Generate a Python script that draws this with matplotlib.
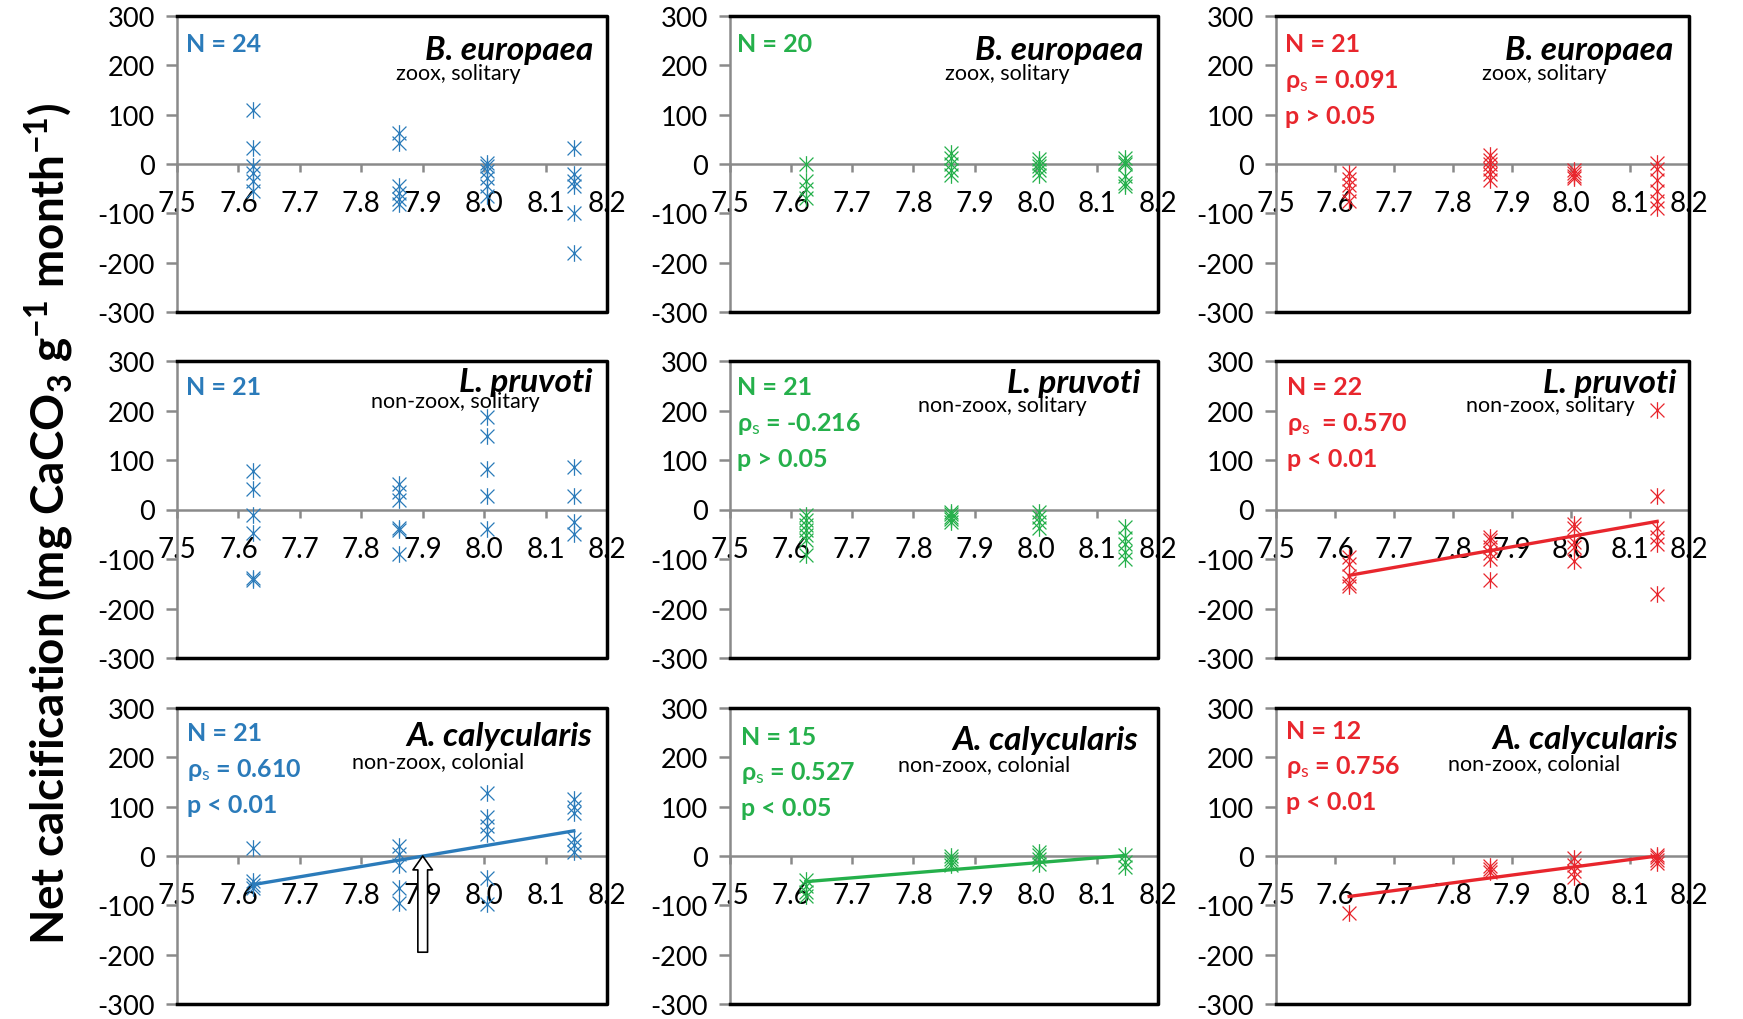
import numpy as np
import matplotlib
matplotlib.use("Agg")
import matplotlib.pyplot as plt
from matplotlib.path import Path

plt.rcParams['font.family'] = ['Lato', 'DejaVu Sans']
plt.rcParams['mathtext.fontset'] = 'custom'
plt.rcParams['mathtext.rm'] = 'Lato'
plt.rcParams['mathtext.bf'] = 'Lato:bold'
plt.rcParams['mathtext.it'] = 'Lato:italic'
plt.rcParams['axes.unicode_minus'] = False

# pH levels
ph = [7.624, 7.862, 8.005, 8.146]

# net calcification per pH level (one list per pH)
be_blue = [[110, 32, -5, -18, -35, -55], [62, 42, -45, -58, -70, -82],
           [3, -5, -15, -28, -45, -65], [33, -20, -35, -45, -100, -180]]
be_green = [[0, -35, -50, -68], [22, 12, 0, -12, -22],
            [10, 3, -5, -12, -22], [12, 5, 0, -25, -38, -45]]
be_red = [[-18, -30, -42, -55, -75], [18, 8, 0, -10, -20, -32],
          [-12, -18, -24, -28], [2, -10, -32, -55, -75, -90]]
lp_blue = [[78, 42, -12, -48, -138, -142], [52, 35, 20, -37, -42, -90],
           [187, 148, 82, 28, -40], [85, 28, -25, -50]]
lp_green = [[-12, -22, -32, -42, -52, -62, -92], [-5, -10, -15, -20, -25],
            [-5, -15, -25, -38], [-35, -58, -70, -85, -100]]
lp_red = [[-95, -110, -135, -148, -155], [-55, -62, -75, -88, -100, -142],
          [-30, -38, -65, -75, -105], [202, 28, -38, -55, -70, -170]]
ac_blue = [[17, -50, -58, -65], [20, 5, -18, -65, -95],
           [128, 80, 60, 45, -45, -98], [115, 100, 88, 35, 22, 8]]
ac_green = [[-48, -60, -72, -82], [0, -6, -12, -18],
            [8, 2, -6, -16], [2, -12, -22]]
ac_red = [[-116], [-20, -27, -33], [-5, -18, -30, -42], [3, -3, -9, -15]]

# trend line values at the lowest and highest pH (None = no line)
fit_ends = [None, None, None,
            None, None, [-133, -24],
            [-58, 51], [-52, 1], [-82, 0]]

species = ["B. europaea", "L. pruvoti", "A. calycularis"]
subtitles = ["zoox, solitary", "non-zoox, solitary", "non-zoox, colonial"]
stats = [["N = 24"], ["N = 20"], ["N = 21", r"ρ$_{\rm s}$ = 0.091", "p > 0.05"],
         ["N = 21"], ["N = 21", r"ρ$_{\rm s}$ = -0.216", "p > 0.05"],
         ["N = 22", r"ρ$_{\rm s}$  = 0.570", "p < 0.01"],
         ["N = 21", r"ρ$_{\rm s}$ = 0.610", "p < 0.01"],
         ["N = 15", r"ρ$_{\rm s}$ = 0.527", "p < 0.05"],
         ["N = 12", r"ρ$_{\rm s}$ = 0.756", "p < 0.01"]]
data = [be_blue, be_green, be_red, lp_blue, lp_green, lp_red, ac_blue, ac_green, ac_red]
colors = ["#2b7bba", "#25b04b", "#e8262d"]

# layout (pixels)
W, H = 1743, 1020
cols_px = [(177, 430), (730, 428), (1276, 413)]
rows_px = [(17, 296), (362, 297), (709, 296)]
sp_pos = [(0.967, 0.855), (0.965, 0.855), (0.961, 0.855),
          (0.965, 0.90), (0.958, 0.896), (0.97, 0.896),
          (0.965, 0.875), (0.953, 0.86), (0.973, 0.865)]
sub_pos = [(0.509, 0.787), (0.502, 0.787), (0.50, 0.787),
           (0.451, 0.846), (0.44, 0.832), (0.46, 0.832),
           (0.407, 0.80), (0.393, 0.79), (0.416, 0.795)]
st_pos = [(0.02, 0.882), (0.016, 0.882), (0.022, 0.882),
          (0.02, 0.889), (0.016, 0.889), (0.027, 0.889),
          (0.023, 0.892), (0.026, 0.88), (0.024, 0.9)]

# Excel-like star marker: X with a vertical bar
star = Path([(-1, -1), (1, 1), (-1, 1), (1, -1), (0, -1.2), (0, 1.2)],
            [Path.MOVETO, Path.LINETO, Path.MOVETO, Path.LINETO, Path.MOVETO, Path.LINETO])

grey = "#8a8a8a"
fig = plt.figure(figsize=(W / 100, H / 100), dpi=100)

for i in range(9):
    r, c = divmod(i, 3)
    l, w = cols_px[c]
    t, h = rows_px[r]
    ax = fig.add_axes([l / W, 1 - (t + h) / H, w / W, h / H])
    col = colors[c]

    xs = [ph[k] for k, vals in enumerate(data[i]) for v in vals]
    ys = [v for vals in data[i] for v in vals]
    ax.plot(xs, ys, linestyle="none", marker=star, markersize=12,
            markerfacecolor="none", markeredgecolor=col, markeredgewidth=0.9, zorder=3)

    if fit_ends[i] is not None:
        ax.plot([ph[0], ph[-1]], fit_ends[i], color=col, lw=2.4, zorder=4)

    ax.set_xlim(7.5, 8.2)
    ax.set_ylim(-300, 300)
    ax.set_xticks(np.arange(7.5, 8.21, 0.1))
    ax.set_xticklabels(["7.5", "7.6", "7.7", "7.8", "7.9", "8.0", "8.1", "8.2"])
    ax.set_yticks(range(-300, 301, 100))

    ax.spines["bottom"].set_position(("data", 0))
    ax.spines["bottom"].set_color(grey)
    ax.spines["bottom"].set_linewidth(1.8)
    ax.spines["left"].set_color(grey)
    ax.spines["left"].set_linewidth(1.8)
    ax.spines["top"].set_visible(False)
    ax.spines["right"].set_visible(False)
    ax.plot([0, 1, 1, 0], [1, 1, 0, 0], transform=ax.transAxes, color="black",
            lw=2.5, clip_on=False, zorder=5)

    ax.tick_params(axis="x", direction="out", length=6, width=1.8, color=grey,
                   labelsize=20, pad=13)
    ax.tick_params(axis="y", direction="out", length=8, width=1.8, color=grey,
                   labelsize=19.5, pad=8)

    ax.text(*sp_pos[i], species[r], transform=ax.transAxes, ha="right", va="baseline",
            fontsize=24, fontweight="bold", fontstyle="italic", color="black")
    ax.text(*sub_pos[i], subtitles[r], transform=ax.transAxes, ha="left", va="baseline",
            fontsize=15.5, color="black")
    sx, sy = st_pos[i]
    for j, s in enumerate(stats[i]):
        ax.text(sx, sy - j * 0.121, s, transform=ax.transAxes, ha="left", va="baseline",
                fontsize=18, fontweight="bold", color=col)

    if i == 6:
        ax.annotate("", xy=(7.9, 0), xytext=(7.9, -195),
                    arrowprops=dict(arrowstyle="simple,head_length=0.5,head_width=0.7,tail_width=0.35",
                                    fc="white", ec="black", lw=1.2, shrinkA=0, shrinkB=0,
                                    mutation_scale=20), zorder=6)

fig.text(0.028, 0.487, r"Net calcification (mg CaCO$_\mathbf{3}$ g$^\mathbf{-1}$ month$^\mathbf{-1}$)",
         rotation=90, ha="center", va="center", fontsize=33, fontweight="bold")

fig.savefig("out.png", dpi=100)
